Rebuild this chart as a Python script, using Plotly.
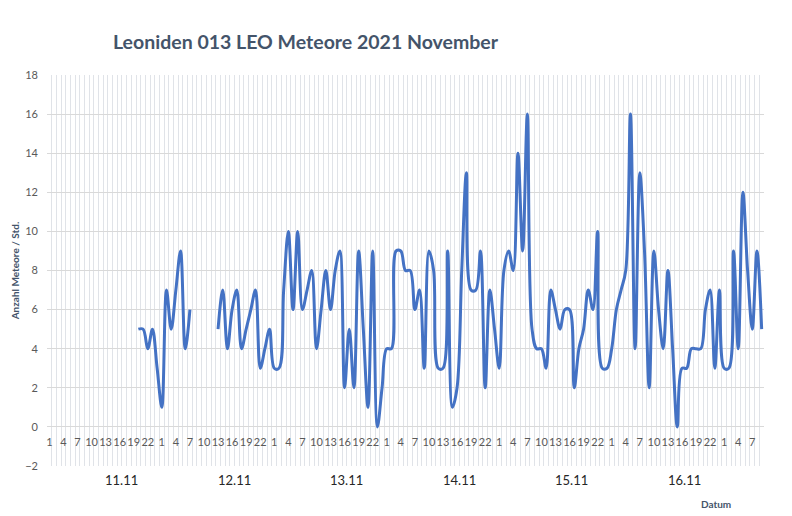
import plotly.graph_objects as go

# ---- data ----
days = ["11.11", "12.11", "13.11", "14.11", "15.11", "16.11", "17.11"]
day_labels_shown = ["11.11", "12.11", "13.11", "14.11", "15.11", "16.11"]
hours_per_day = list(range(1, 25))
n_categories = 153

cat_day = []
cat_hour = []
for d in days:
    for h in hours_per_day:
        cat_day.append(d)
        cat_hour.append(h)
cat_day = cat_day[:n_categories]
cat_hour = cat_hour[:n_categories]

meteors = (
    [None] * 19
    + [5, 5, 4, 5, 3, 1, 7, 5, 7, 9, 4, 6]
    + [None] * 5
    + [5, 7, 4, 6, 7, 4, 5, 6, 7, 3,
       4, 5, 3, 3, 7, 10, 6, 10, 6, 7,
       8, 4, 6, 8, 6, 8, 9, 2, 5, 2,
       9, 5, 1, 9, 0, 2, 4, 4, 9, 9,
       8, 8, 6, 7, 3, 9, 8, 3, 3, 9,
       1, 2, 8, 13, 7, 7, 9, 2, 7, 5,
       3, 8, 9, 8, 14, 9, 16, 5, 4, 4,
       3, 7, 6, 5, 6, 6, 2, 4, 5, 7,
       6, 10, 3, 3, 4, 6, 7, 8, 16, 4,
       13, 9, 2, 9, 6, 4, 8, 4, 0, 3,
       3, 4, 4, 4, 6, 7, 3, 7, 3, 3,
       9, 4, 12, 8, 5, 9, 5]
)

x_idx = list(range(n_categories))

FONT = "Lato"
GRID = "#D9D9D9"
VGRID = "#E0E3E8"

fig = go.Figure()
fig.add_trace(go.Scatter(
    x=x_idx, y=meteors, mode="lines",
    line=dict(color="#4472C4", width=3, shape="spline", smoothing=1),
    connectgaps=False, showlegend=False, hoverinfo="skip",
))

tickvals = [i for i in x_idx if i % 3 == 0]
ticktext = [str(cat_hour[i]) for i in tickvals]

fig.update_layout(
    template="none",
    width=792, height=516,
    margin=dict(l=47, r=28, t=75, b=50, pad=0),
    paper_bgcolor="white", plot_bgcolor="white",
    font=dict(family=FONT, color="#595959", size=11),
    title=dict(
        text="Leoniden 013 LEO Meteore 2021 November",
        x=113 / 792, xanchor="left", xref="container",
        y=1 - 42 / 516, yanchor="middle", yref="container",
        font=dict(family=FONT, size=19.5, color="#44546A", weight="bold"),
    ),
    xaxis=dict(
        range=[-0.5, n_categories - 0.5],
        tickmode="array", tickvals=tickvals, ticktext=ticktext,
        tickangle=0, automargin=False,
        showgrid=False, zeroline=False, showline=False, ticks="",
        anchor="free", position=0.1,
        tickfont=dict(size=11, color="#595959"),
        ticklabelstandoff=7,
        minor=dict(tickmode="linear", tick0=-0.5, dtick=1,
                   showgrid=True, gridcolor=VGRID, gridwidth=1, ticks=""),
    ),
    yaxis=dict(
        range=[-2, 18], dtick=2, tick0=0, automargin=False,
        showgrid=True, gridcolor=GRID, gridwidth=1,
        zeroline=False, showline=False, ticks="",
        tickfont=dict(size=11, color="#595959"),
        ticklabelstandoff=8,
        title=dict(text="Anzahl Meteore / Std.", standoff=3,
                   font=dict(family=FONT, size=10, color="#44546A", weight="bold")),
    ),
)

# day group labels under the hour labels
for k, lab in enumerate(day_labels_shown):
    fig.add_annotation(
        x=days.index(lab) * 24 + 11.5, xref="x",
        y=0, yref="paper", yshift=-14,
        text=lab, showarrow=False, xanchor="left", yanchor="middle",
        font=dict(family=FONT, size=13, color="#262626"),
    )

fig.add_annotation(
    x=(716 - 47) / (764 - 47), xref="paper", y=0, yref="paper", yshift=-38,
    text="Datum", showarrow=False, xanchor="center", yanchor="middle",
    font=dict(family=FONT, size=10, color="#44546A", weight="bold"),
)

fig.write_html("out.html")
